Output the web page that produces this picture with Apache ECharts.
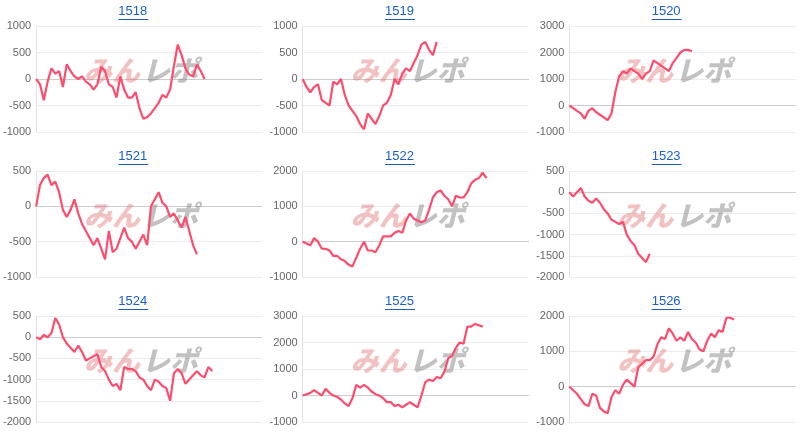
<!DOCTYPE html>
<html><head><meta charset="utf-8">
<script src="https://cdn.jsdelivr.net/npm/echarts@6/dist/echarts.min.js"></script>
<style>html,body{margin:0;padding:0;background:#fff}#c{width:800px;height:434px}</style>
</head><body><div id="c"></div>
<script>
const titles = ['1518','1519','1520','1521','1522','1523','1524','1525','1526'];
const s1518 = [0,-100,-400,-50,200,100,150,-150,280,150,50,0,50,-50,-100,-200,-100,230,150,-100,-150,-350,50,-200,-350,-350,-250,-550,-750,-720,-650,-550,-450,-300,-350,-200,250,650,450,200,80,50,270,150,0];
const s1519 = [0,-150,-250,-150,-100,-400,-450,-500,-50,-100,0,-300,-500,-600,-700,-850,-950,-650,-750,-850,-700,-500,-450,-300,0,-100,100,200,150,300,450,650,700,550,450,700];
const s1520 = [0,-100,-200,-300,-500,-200,-100,-250,-350,-450,-550,-300,500,1100,1300,1200,1400,1300,1200,1000,1200,1300,1700,1600,1500,1400,1300,1600,1800,2000,2100,2100,2050];
const s1521 = [0,300,400,450,300,350,200,-50,-150,-50,100,-100,-250,-350,-450,-550,-450,-600,-750,-350,-650,-600,-450,-300,-450,-500,-600,-500,-400,-550,0,100,200,50,0,-150,-100,-200,-300,-150,-350,-550,-680];
const s1522 = [0,-50,-100,100,0,-200,-200,-250,-400,-400,-500,-550,-650,-700,-450,-200,0,-250,-250,-300,-100,150,150,150,250,300,250,600,800,650,600,550,600,900,1250,1400,1450,1300,1200,1000,1300,1250,1250,1400,1650,1750,1800,1950,1800];
const s1523 = [0,-100,0,100,-100,-200,-250,-150,-250,-400,-500,-650,-700,-750,-700,-1000,-1150,-1250,-1450,-1550,-1650,-1450];
const s1524 = [0,-50,50,0,100,450,300,0,-150,-250,-350,-200,-350,-550,-500,-450,-400,-700,-800,-1000,-1150,-1100,-1250,-700,-750,-750,-800,-950,-1000,-1150,-1250,-1000,-1050,-1150,-1200,-1500,-850,-750,-850,-1100,-1000,-900,-800,-900,-950,-700,-800];
const s1525 = [0,50,100,200,100,0,250,100,0,-50,-150,-300,-400,-100,400,300,400,300,150,50,0,-100,-250,-250,-400,-350,-450,-350,-250,-350,-450,0,500,600,550,700,650,900,1400,1500,1800,2000,1950,2600,2600,2700,2650,2600];
const s1526 = [0,-100,-200,-350,-500,-550,-200,-250,-600,-700,-750,-300,-100,-200,50,200,100,0,550,650,750,750,850,1200,1400,1350,1650,1500,1300,1400,1300,1550,1350,1250,1050,1000,1300,1500,1400,1600,1550,1950,1950,1900];
const seriesData = [s1518,s1519,s1520,s1521,s1522,s1523,s1524,s1525,s1526];
const yMin = [-1000,-1000,-1000,-1000,-1000,-2000,-2000,-1000,-1000];
const yMax = [1000,1000,3000,500,2000,500,500,3000,2000];
const yStep = [500,500,1000,500,1000,500,500,1000,1000];
const slots = Array.from({length:60},(_,i)=>String(i));

const chart = echarts.init(document.getElementById('c'));
const grid=[],xAxis=[],yAxis=[],series=[],title=[],graphic=[];
const pw = 800/3;
for(let i=0;i<9;i++){
  const c=i%3, r=Math.floor(i/3);
  const ox=c*pw, oy=r*145;
  grid.push({left:ox+36,top:oy+26,width:226,height:106});
  xAxis.push({gridIndex:i,type:'category',data:slots,boundaryGap:false,
    axisLine:{onZero:true,lineStyle:{color:'#cccccc'}},axisTick:{show:false},axisLabel:{show:false},splitLine:{show:false}});
  yAxis.push({gridIndex:i,type:'value',min:yMin[i],max:yMax[i],interval:yStep[i],
    axisLine:{show:true,lineStyle:{color:'#e2e2e2'}},axisTick:{show:false},
    axisLabel:{color:'#666',fontSize:11,fontFamily:'Liberation Sans',margin:5,formatter:v=>String(v)},
    splitLine:{lineStyle:{color:'#ececec'}}});
  series.push({type:'line',xAxisIndex:i,yAxisIndex:i,data:seriesData[i],showSymbol:false,
    lineStyle:{color:'#fc4d6e',width:2.2},itemStyle:{color:'#fc4d6e'},z:3});
  title.push({text:titles[i],left:ox+pw/2-15,top:oy+5,padding:0,
    textStyle:{color:'#1a5fc8',fontSize:13,fontWeight:'normal',fontFamily:'Liberation Sans'}});
  graphic.push({type:'rect',left:ox+pw/2-15,top:oy+19,shape:{width:30,height:1},style:{fill:'#1a5fc8'}});
  graphic.push({type:'text',left:ox+84,top:oy+56,z:1,style:{text:'みん',fill:'rgba(225,110,110,0.42)',font:'italic 900 28px "Noto Sans CJK JP"'}});
  graphic.push({type:'text',left:ox+142,top:oy+56,z:1,style:{text:'レポ',fill:'rgba(120,120,120,0.45)',font:'italic 900 28px "Noto Sans CJK JP"'}});
}
chart.setOption({animation:false,title,grid,xAxis,yAxis,series,graphic});
</script></body></html>
